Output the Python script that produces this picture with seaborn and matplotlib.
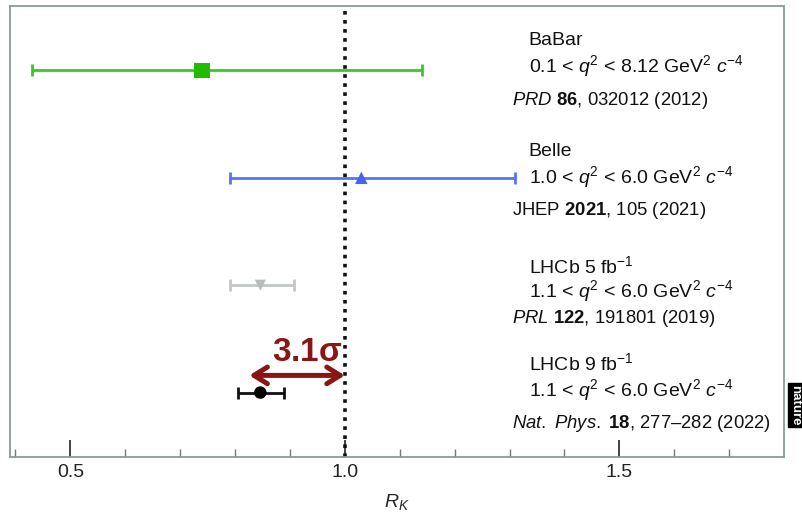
import matplotlib
matplotlib.use("Agg")
import matplotlib.pyplot as plt
import seaborn as sns
import pandas as pd

# ---- data ----
experiments = ["BaBar", "Belle", "LHCb 5 fb", "LHCb 9 fb"]
rk_values = [0.74, 1.03, 0.846, 0.846]
err_low = [0.31, 0.24, 0.056, 0.041]
err_high = [0.40, 0.28, 0.062, 0.044]
positions = [3, 2, 1, 0]
markers = ["s", "^", "v", "o"]
colors = ["#33cc22", "#5577ee", "#c2c6c6", "#111111"]
marker_colors = ["#22bb00", "#4466ee", "#b8bcbc", "#000000"]
marker_sizes = [11, 9, 8, 9]
names = ["BaBar", "Belle", r"LHCb 5 fb$^{-1}$", r"LHCb 9 fb$^{-1}$"]
ranges = [r"0.1 < $q^2$ < 8.12 GeV$^2$ $c^{-4}$",
          r"1.0 < $q^2$ < 6.0 GeV$^2$ $c^{-4}$",
          r"1.1 < $q^2$ < 6.0 GeV$^2$ $c^{-4}$",
          r"1.1 < $q^2$ < 6.0 GeV$^2$ $c^{-4}$"]
citations = [r"$\mathit{PRD}$ $\mathbf{86}$, 032012 (2012)",
             r"JHEP $\mathbf{2021}$, 105 (2021)",
             r"$\mathit{PRL}$ $\mathbf{122}$, 191801 (2019)",
             r"$\mathit{Nat.\ Phys.}$ $\mathbf{18}$, 277–282 (2022)"]
sm_value = 1.0
significance = r"3.1$\mathbf{\sigma}$"
xticks = [0.5, 1.0, 1.5]
xtick_labels = ["0.5", "1.0", "1.5"]

df = pd.DataFrame({"exp": experiments, "rk": rk_values, "y": positions})

sns.set_theme(style="white")
plt.rcParams["font.family"] = ["Liberation Sans", "DejaVu Sans"]
plt.rcParams["mathtext.fontset"] = "custom"
plt.rcParams["mathtext.rm"] = "Liberation Sans"
plt.rcParams["mathtext.it"] = "Liberation Sans:italic"
plt.rcParams["mathtext.bf"] = "Liberation Sans:bold"

fig = plt.figure(figsize=(8.03, 5.24), dpi=100)
ax = fig.add_axes([10/803, 1-457/524, (784-10)/803, (457-6)/524])

ax.axvline(sm_value, color="#111111", lw=2.6, linestyle=(0, (1, 1.5)), zorder=1)

for i in range(len(experiments)):
    ax.errorbar(rk_values[i], positions[i],
                xerr=[[err_low[i]], [err_high[i]]],
                fmt="none", ecolor=colors[i], elinewidth=2, capsize=4, capthick=2, zorder=2)

sns.scatterplot(data=df, x="rk", y="y", hue="exp", style="exp",
                markers=dict(zip(experiments, markers)),
                palette=dict(zip(experiments, marker_colors)),
                s=110, edgecolor="none", legend=False, ax=ax, zorder=3)
coll = ax.collections[-1]
coll.set_sizes([m**2 for m in marker_sizes])

# arrow and significance
ax.annotate("", xy=(0.826, 0.16), xytext=(sm_value, 0.16),
            arrowprops=dict(arrowstyle="<->,head_length=0.8,head_width=0.5",
                            color="#8b1515", lw=3.6, shrinkA=0, shrinkB=0), zorder=4)
ax.text(0.932, 0.37, significance, color="#8b1515", fontsize=24, fontweight="bold",
        ha="center", va="center")

# annotations
name_x = 1.335
cit_x = 1.304
name_y = [3.28, 2.246, 1.174, 0.270]
range_y = [3.04, 2.004, 0.941, 0.028]
cit_y = [2.72, 1.696, 0.690, -0.289]
for i in range(len(experiments)):
    ax.text(name_x, name_y[i], names[i], fontsize=14, va="center", ha="left", color="#111111")
    ax.text(name_x, range_y[i], ranges[i], fontsize=14, va="center", ha="left", color="#111111")
    ax.text(cit_x, cit_y[i], citations[i], fontsize=13.3, va="center", ha="left", color="#111111")

ax.set_xlim(0.39, 1.80)
ax.set_ylim(-0.6, 3.6)
ax.set_yticks([])
ax.set_xticks(xticks)
ax.set_xticklabels(xtick_labels)
ax.set_xticks([0.4, 0.6, 0.7, 0.8, 0.9, 1.1, 1.2, 1.3, 1.4, 1.6, 1.7], minor=True)
ax.tick_params(axis="x", which="major", direction="in", length=12, width=1.2,
               colors="#222222", labelsize=14, pad=5, bottom=True)
ax.tick_params(axis="x", which="minor", direction="in", length=6, width=1,
               colors="#777777", bottom=True)
for sp in ax.spines.values():
    sp.set_color("#8a9a9a")
    sp.set_linewidth(1.3)
ax.set_xlabel(r"$R_K$", fontsize=14, labelpad=8)
ax.set_ylabel("")

fig.text(795/803, 1-405/524, "nature", rotation=270, color="white", fontsize=9.5,
         fontweight="bold", ha="center", va="center",
         bbox=dict(boxstyle="square,pad=0.1", fc="black", ec="black"))

fig.savefig("out.png", dpi=100)
